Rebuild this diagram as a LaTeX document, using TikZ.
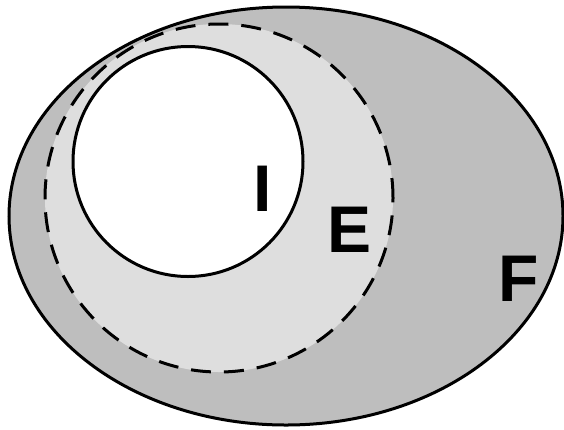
\documentclass[tikz,border=0pt]{standalone}
\usepackage{fontspec}
\setmainfont{Liberation Sans}
\usepackage{tikz}
\usetikzlibrary{positioning}
\definecolor{setF}{gray}{0.745}
\definecolor{setE}{gray}{0.87}
\tikzset{
  setline/.style={line width=3pt},
  dashline/.style={line width=3pt, dash pattern=on 20pt off 13pt},
  setlabel/.style={inner sep=0pt, font=\fontsize{66}{66}\selectfont\bfseries}
}
\begin{document}
\begin{tikzpicture}[x=1pt,y=-1pt]
  \useasboundingbox (0,0) rectangle (564,429);
  % F
  \fill[setF] (286,216) ellipse [x radius=277pt, y radius=209pt];
  % E (gestrichelt)
  \fill[setE] (219,198) circle [radius=174pt];
  \draw[dashline] (219,198) circle [radius=174pt];
  % I
  \filldraw[fill=white, setline] (188,161.5) circle [radius=115pt];
  % Rand von F
  \draw[setline] (286,216) ellipse [x radius=277pt, y radius=209pt];
  % Beschriftungen
  \node[setlabel] (labI) at (263,188.5) {I};
  \node[setlabel] (labE) at (350,230) {E};
  \node[setlabel] (labF) at (519,278.5) {F};
\end{tikzpicture}
\end{document}
